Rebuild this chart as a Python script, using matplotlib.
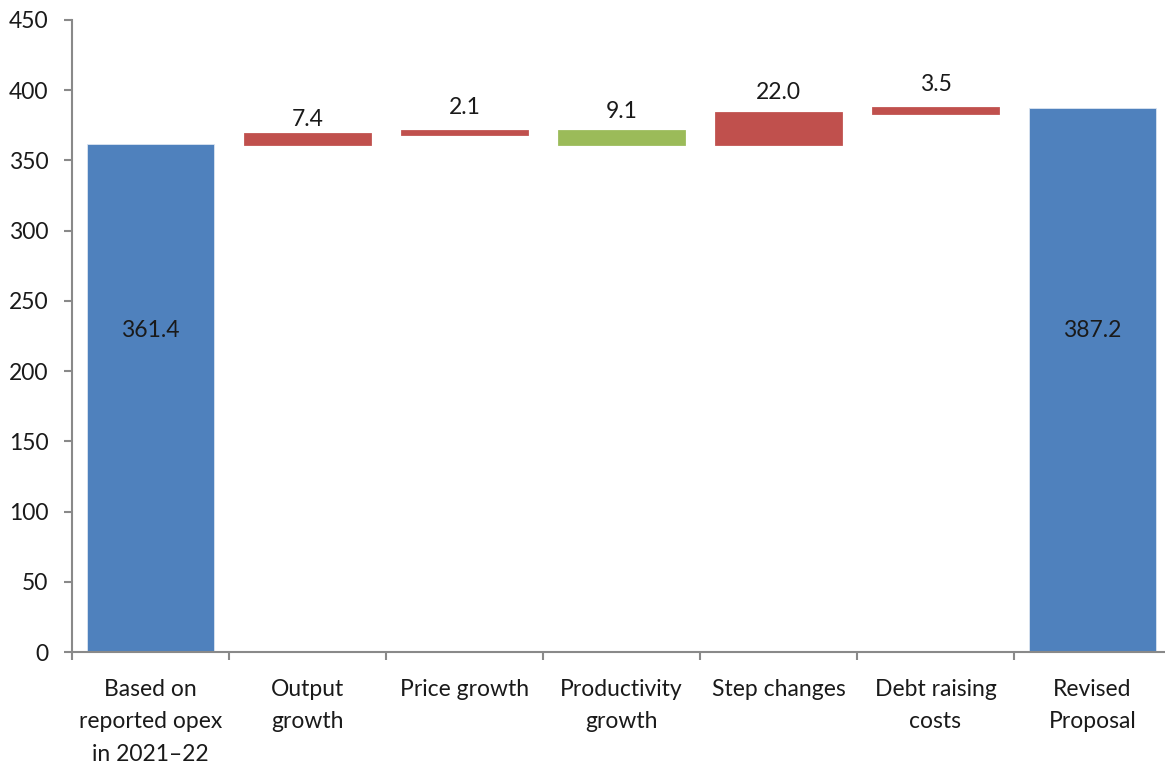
import matplotlib.pyplot as plt
import numpy as np

# categories and step values for the opex waterfall
categories = ['Based on\nreported opex\nin 2021\u201322', 'Output\ngrowth', 'Price growth',
              'Productivity\ngrowth', 'Step changes', 'Debt raising\ncosts', 'Revised\nProposal']
steps = [361.4, 7.4, 2.1, -9.1, 22.0, 3.5, 387.2]
labels = ['361.4', '7.4', '2.1', '9.1', '22.0', '3.5', '387.2']
kinds = ['total', 'up', 'up', 'down', 'up', 'up', 'total']

BLUE = '#4F81BD'
RED = '#C0504D'
GREEN = '#9BBB59'
GREY = '#898989'
FS = 16.5
# gap (points) between a step bar and its label, as in the source chart
label_gap = [0, 3, 9.5, 6.5, 7.5, 9.5, 0]

plt.rcParams['font.family'] = ['Lato', 'DejaVu Sans']


def main():
    fig = plt.figure(figsize=(11.65, 7.69), dpi=100)
    ax = fig.add_axes([0.0618, 0.152, 0.9433, 0.822])

    x = np.arange(len(categories))
    running = 0.0
    for i, (v, kind) in enumerate(zip(steps, kinds)):
        if kind == 'total':
            bottom, height, color = 0, v, BLUE
            running = v
        elif kind == 'up':
            bottom, height, color = running, v, RED
            running += v
        else:
            bottom, height, color = running + v, -v, GREEN
            running += v
        if kind == 'total':
            ax.bar(x[i], height, bottom=bottom, width=0.81, color=color,
                   edgecolor='#dbe5f1', linewidth=0.6)
            ax.text(x[i], 229, labels[i], ha='center', va='center',
                    fontsize=FS, color='#1a1a1a')
        else:
            ax.bar(x[i], height, bottom=bottom, width=0.8, color=color,
                   edgecolor=color, linewidth=2.0)
            ax.annotate(labels[i], (x[i], bottom + height), xytext=(0, label_gap[i]),
                        textcoords='offset points', ha='center', va='bottom',
                        fontsize=FS, color='#1a1a1a')

    ax.set_xlim(-0.5, 6.5)
    ax.set_ylim(0, 450)
    ax.set_yticks(np.arange(0, 451, 50))
    ax.set_xticks(x)
    ax.set_xticklabels(categories, fontsize=FS, color='#1a1a1a', linespacing=1.68)
    ax.set_xticks(np.arange(-0.5, 6.6, 1), minor=True)
    ax.tick_params(axis='x', which='major', length=0, pad=19)
    ax.tick_params(axis='x', which='minor', length=6, width=1.5, color=GREY)
    ax.tick_params(axis='y', length=6, width=1.5, color=GREY, labelsize=FS,
                   labelcolor='#1a1a1a', pad=11)

    for side in ['top', 'right']:
        ax.spines[side].set_visible(False)
    for side in ['left', 'bottom']:
        ax.spines[side].set_color(GREY)
        ax.spines[side].set_linewidth(1.5)

    fig.savefig('out.png', dpi=100)


if __name__ == '__main__':
    main()
